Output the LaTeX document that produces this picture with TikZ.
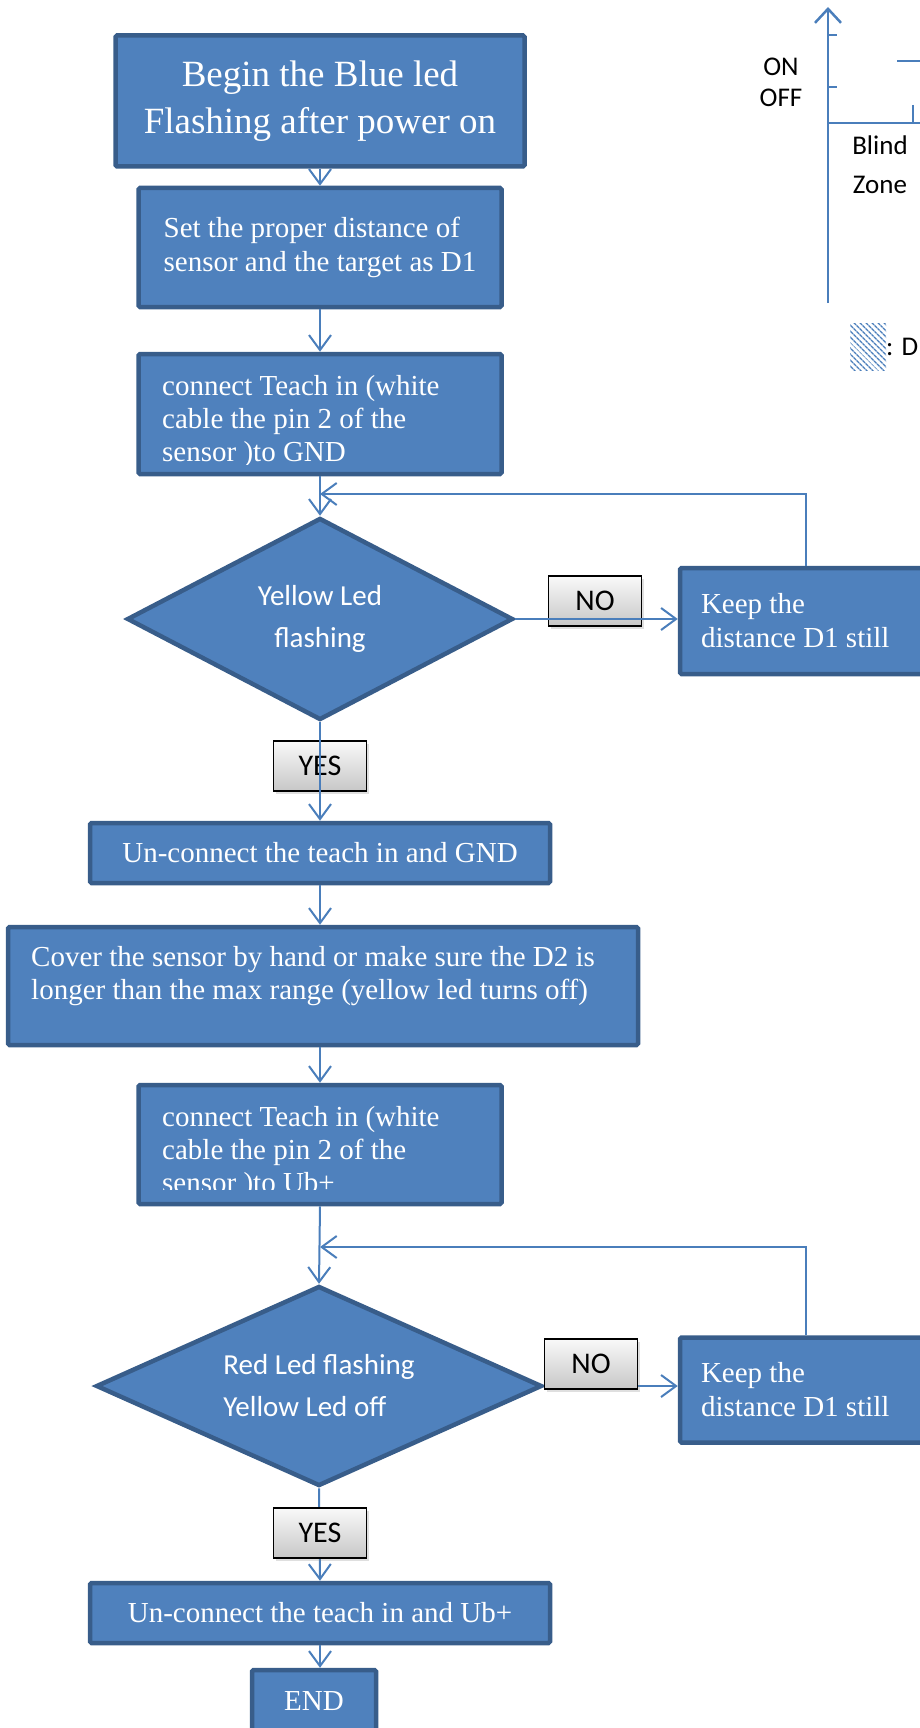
\documentclass[tikz,border=0pt]{standalone}
\usepackage{fontspec}
\setmainfont{Liberation Serif}
\newfontfamily\calfont{Carlito}
\usetikzlibrary{shapes.geometric,arrows.meta,calc,patterns.meta,shadows}

\definecolor{boxfill}{HTML}{4F81BD}
\definecolor{boxline}{HTML}{385D8A}
\definecolor{conncol}{HTML}{4A7EBB}

\tikzset{
  stepbox/.style={draw=boxline, fill=boxfill, line width=4.5pt, rounded corners=1.5pt, text=white, font=\fontsize{29}{34}\selectfont, inner sep=0pt},
  bodytext/.style={text=white, font=\fontsize{29}{33}\selectfont, align=left, inner sep=0pt},
  decision/.style={diamond, aspect=2.2, draw=boxline, fill=boxfill, line width=4.5pt, text=white, font=\calfont\fontsize{29}{42}\selectfont, inner sep=0pt},
  answer/.style={draw=black, line width=1.8pt, top color=white!95!gray, bottom color=black!22, font=\calfont\fontsize{30}{32}\selectfont, minimum width=93pt, minimum height=50pt, inner sep=0pt, drop shadow={opacity=0.25, shadow xshift=2pt, shadow yshift=-3pt}},
  conn/.style={draw=conncol, line width=2pt, -{Straight Barb[length=15pt,width=22pt,line width=2pt]}},
  axis/.style={draw=conncol, line width=2.5pt},
  chartlabel/.style={font=\calfont\fontsize{27}{30}\selectfont, inner sep=0pt}
}

\begin{document}
\begin{tikzpicture}[x=1pt,y=-1pt]
	\useasboundingbox (0,0) rectangle (920,1728);
	\clip (0,0) rectangle (920,1728);
	% flow chart
	\node[stepbox, minimum width=409pt, minimum height=131pt, align=center, font=\fontsize{37}{47}\selectfont] (begin) at (320,101) {Begin the Blue led\\Flashing after power on};
	\node[stepbox, minimum width=363pt, minimum height=119pt, align=left] (setdist) at (320,247.5) {Set the proper distance of\\sensor and the target as D1};
	\node[stepbox, minimum width=363pt, minimum height=120pt] (teach1) at (320,414) {};
	\begin{scope}
		\clip ($(teach1.south west)+(0,-12)$) rectangle (teach1.north east);
		\node[bodytext, anchor=north west] (teach1txt) at (162,375) {connect Teach in (white\\cable the pin 2 of the\\sensor )to GND};
	\end{scope}
	\node[decision, minimum width=386pt, minimum height=202pt, align=center] (yellow1) at (320,619) {Yellow Led\\flashing};
	\node[stepbox, minimum width=252pt, minimum height=106pt, text width=210pt, align=flush left] (keep1) at (806,621) {Keep the\\distance D1 still};
	\node[answer] (no1) at (595,601) {NO};
	\node[answer] (yes1) at (320,766) {YES};
	\node[stepbox, minimum width=460pt, minimum height=60pt] (ungnd) at (320,853) {Un-connect the teach in and GND};
	\node[stepbox, minimum width=630pt, minimum height=118pt] (cover) at (323,986) {};
	\node[bodytext, anchor=north west] (covertxt) at (31,946) {Cover the sensor by hand or make sure the D2 is\\longer than the max range (yellow led turns off)};
	\node[stepbox, minimum width=363pt, minimum height=119pt] (teach2) at (320,1144.5) {};
	\begin{scope}
		\clip ($(teach2.south west)+(0,-17)$) rectangle (teach2.north east);
		\node[bodytext, anchor=north west] (teach2txt) at (162,1106) {connect Teach in (white\\cable the pin 2 of the\\sensor )to Ub+};
	\end{scope}
	\node[decision, minimum width=446pt, minimum height=200pt, align=left] (red2) at (319,1386) {Red Led flashing\\Yellow Led off};
	\node[stepbox, minimum width=252pt, minimum height=105pt, text width=210pt, align=flush left] (keep2) at (806,1390) {Keep the\\distance D1 still};
	\node[stepbox, minimum width=460pt, minimum height=60pt] (unub) at (320,1613) {Un-connect the teach in and Ub+};
	\node[stepbox, minimum width=124pt, minimum height=62pt] (end) at (314,1701) {END};
	\coordinate (back1) at (320,494);
	\coordinate (back2) at (320,1247);
	\draw[conn] (begin.south) -- (begin.south |- setdist.north);
	\draw[conn] (setdist.south) -- (teach1.north);
	\draw[conn] (teach1.south) -- (yellow1.north);
	\draw[conn] (keep1.north) |- (back1);
	\draw[conn] (yellow1.east) -- (yellow1.east -| keep1.west);
	\draw[conn] (yellow1.south) -- (ungnd.north);
	\draw[conn] (ungnd.south) -- (ungnd.south |- cover.north);
	\draw[conn] (teach2.north |- cover.south) -- (teach2.north);
	\draw[conn] (teach2.south) -- (red2.north);
	\draw[conn] (keep2.north) |- (back2);
	\draw[conn] (red2.east) -- (red2.east -| keep2.west);
	\draw[conn] (red2.south) -- (unub.north);
	\draw[conn] (unub.south) -- (unub.south |- end.north);
	\node[answer] (no2) at (591,1364) {NO};
	\node[answer] (yes2) at (320,1533) {YES};
	% switching chart
	\draw[axis, -{Straight Barb[length=14pt,width=26pt,line width=2.5pt]}] (828,303) -- (828,7);
	\draw[axis] (828,123) -- (930,123);
	\draw[axis] (828,35) -- (837,35);
	\draw[axis] (828,87) -- (837,87);
	\draw[axis] (913,105) -- (913,123);
	\draw[axis] (897,61) -- (930,61);
	\node[chartlabel] (on) at (781,67) {ON};
	\node[chartlabel] (off) at (781,98) {OFF};
	\node[chartlabel] (blind) at (880,145) {Blind};
	\node[chartlabel] (zone) at (880,185) {Zone};
	\fill[pattern={Lines[angle=-45,distance=4pt,line width=1.4pt]}, pattern color=conncol] (850,323) rectangle (886,370);
	\node[chartlabel, anchor=west] (legend) at (886,347) {: D};
\end{tikzpicture}
\end{document}
